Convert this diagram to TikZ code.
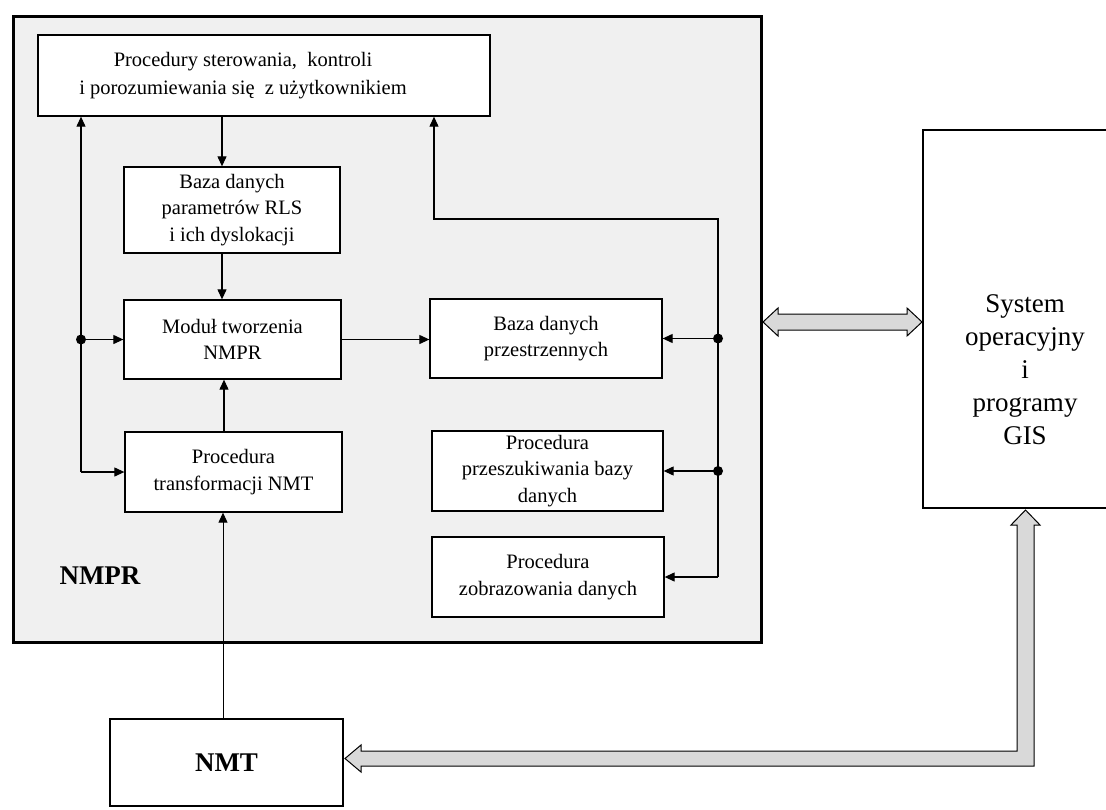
\documentclass[tikz,border=0pt]{standalone}
\usepackage{fontspec}
\setmainfont{Liberation Serif}
\usetikzlibrary{arrows.meta,calc}
\begin{document}
\begin{tikzpicture}[x=1pt,y=-1pt,
  box/.style={draw, line width=1.3pt, fill=white, inner sep=0pt, align=center,
    font=\fontsize{20.5}{26.5}\selectfont},
  txt/.style={inner sep=0pt, align=center, font=\fontsize{20.5}{28}\selectfont},
  arr/.style={line width=1.1pt, -{Triangle[length=10pt,width=9pt]}},
  thin/.style={line width=1pt, -{Triangle[length=10pt,width=9pt]}},
  fat/.style={draw=black, line width=1pt, fill=gray!30},
  big/.style={draw, line width=2.5pt, fill=white, inner sep=0pt},
  dot/.style={fill=black}
]
\useasboundingbox (0,0) rectangle (1106,809);
\clip (0,0) rectangle (1106,809);

% outer NMPR frame
\node[draw, line width=3pt, fill=black!6, minimum width=748pt, minimum height=626pt, inner sep=0pt] (frame) at (387,329) {};
\node[font=\fontsize{27}{30}\selectfont\bfseries, inner sep=0pt] (nmprlabel) at (100,576) {NMPR};

% inner boxes
\node[box, minimum width=452pt, minimum height=81pt] (top) at (264,75.5) {};
\node[txt] (toptext) at (243,76) {Procedury sterowania,\ \ kontroli\\ i porozumiewania się\ \ z użytkownikiem};

\node[box, minimum width=216pt, minimum height=86pt] (rls) at (232,210) {Baza danych\\ parametrów RLS\\ i ich dyslokacji};
\node[box, minimum width=217pt, minimum height=79pt] (mod) at (232.5,339.5) {Moduł tworzenia\\ NMPR};
\node[box, minimum width=217pt, minimum height=80pt] (proc) at (233.5,472) {Procedura\\ transformacji NMT};

\node[box, minimum width=232pt, minimum height=79pt] (baza) at (546,338.5) {Baza danych\\ przestrzennych};
\node[box, minimum width=231pt, minimum height=80pt] (przes) at (547.5,471) {Procedura\\ przeszukiwania bazy\\ danych};
\node[box, minimum width=232pt, minimum height=80pt] (zob) at (548,577) {Procedura\\ zobrazowania danych};

% outer boxes
\node[big, minimum width=233pt, minimum height=87pt, font=\fontsize{27}{30}\selectfont\bfseries] (nmt) at (226.5,762.5) {NMT};
\node[big, minimum width=204pt, minimum height=378pt] (sys) at (1025,319) {};
\node[inner sep=0pt, align=center, font=\fontsize{27}{33}\selectfont] (systext) at (1025,370) {System\\ operacyjny\\ i\\ programy\\ GIS};

% helper coordinates
\coordinate (L) at (81,0);
\coordinate (R) at (718,0);
\coordinate (c1) at (222,0);
\coordinate (c2) at (224,0);
\coordinate (c3) at (223,0);
\coordinate (c4) at (434,219);

% connectors
\draw[arr] (top.south -| c1) -- (rls.north -| c1);
\draw[arr] (rls.south -| c1) -- (mod.north -| c1);
\draw[arr] (proc.north -| c2) -- (mod.south -| c2);
\draw[thin] (nmt.north -| c3) -- (proc.south -| c3);

\draw[arr] (proc.west -| L) -- (top.south -| L);
\draw[arr] (proc.west -| L) -- (proc.west);
\draw[arr] (mod.west -| L) -- (mod.west);
\fill[dot] (mod.west -| L) circle (5pt);

\draw[arr] (mod.east) -- (baza.west |- mod.east);

\draw[arr] (zob.east -| R) -- (c4 -| R) -- (c4) -- (top.south -| c4);
\draw[arr] (zob.east -| R) -- (zob.east);
\draw[arr] (baza.east -| R) -- (baza.east);
\draw[arr] (przes.east -| R) -- (przes.east);
\fill[dot] (baza.east -| R) circle (5pt);
\fill[dot] (przes.east -| R) circle (5pt);

% fat double arrow between NMPR and system
\draw[fat] (763,322) -- (778,308) -- (778,314) -- (907,314) -- (907,308) -- (922,322)
  -- (907,336) -- (907,330) -- (778,330) -- (778,336) -- cycle;

% fat L-shaped arrow from system to NMT
\draw[fat] (1025.5,510) -- (1040,525) -- (1034,525) -- (1034,766) -- (361,766) -- (361,772)
  -- (345,758.5) -- (361,745) -- (361,751) -- (1017,751) -- (1017,525) -- (1011,525) -- cycle;
\end{tikzpicture}
\end{document}
